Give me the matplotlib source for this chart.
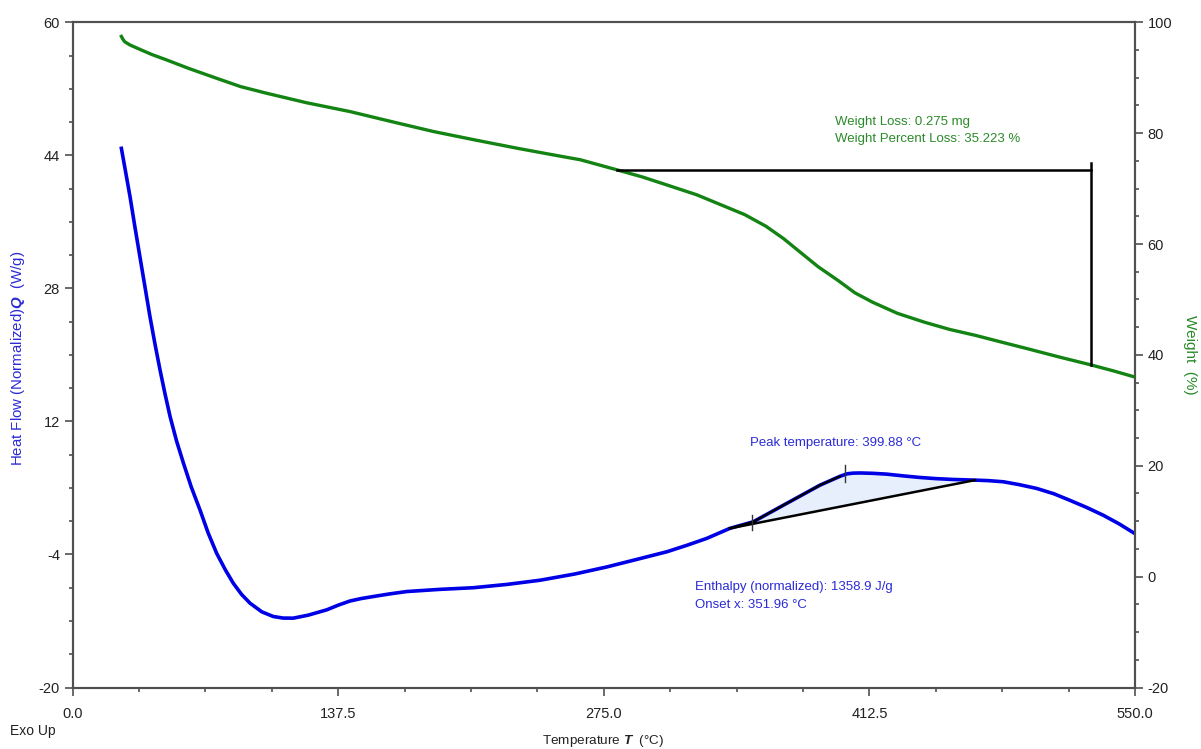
import matplotlib
matplotlib.use("Agg")
import matplotlib.pyplot as plt
import numpy as np

plt.rcParams["font.family"] = ["Liberation Sans", "DejaVu Sans"]
plt.rcParams["mathtext.fontset"] = "custom"
plt.rcParams["mathtext.rm"] = "Liberation Sans"
plt.rcParams["mathtext.bfit"] = "Liberation Sans:italic:bold"
plt.rcParams["axes.unicode_minus"] = False

# Heat flow (normalized), W/g
hf_temp = [25.3, 27.5, 29.8, 32.3, 34.9, 37.5, 40.1, 42.7, 45.3, 47.9, 50.5, 53.8,
           57.4, 61.5, 66.0, 70.2, 74.6, 79.0, 83.2, 87.5, 91.9, 98.0, 103.9, 109.0,
           114.3, 122.0, 131.6, 137.5, 143.6, 149.5, 155.7, 164.0, 173.0, 190.0,
           207.5, 225.0, 242.0, 260.0, 276.6, 292.0, 307.6, 318.0, 328.3, 340.3,
           352.4, 369.7, 386.9, 397.3, 401.0, 404.0, 407.6, 414.0, 421.5, 430.0,
           438.7, 447.0, 455.9, 467.2, 474.0, 481.9, 490.0, 499.1, 508.0, 516.4,
           525.0, 533.7, 542.0, 550.0]
hf_value = [44.84, 42.0, 39.0, 35.4, 31.8, 28.2, 24.6, 21.3, 18.2, 15.3, 12.6, 9.7,
            7.0, 4.1, 1.35, -1.4, -3.85, -5.8, -7.45, -8.8, -9.86, -10.9, -11.46, -11.65,
            -11.66, -11.3, -10.66, -10.1, -9.6, -9.3, -9.06, -8.75, -8.46, -8.2,
            -8.0, -7.6, -7.1, -6.35, -5.5, -4.6, -3.68, -2.9, -2.07, -0.86,
            -0.07, 2.14, 4.33, 5.4, 5.7, 5.78, 5.8, 5.76, 5.66, 5.45,
            5.26, 5.12, 5.02, 4.94, 4.88, 4.74, 4.4, 3.94, 3.3, 2.5,
            1.65, 0.7, -0.35, -1.5]

# Weight, %
wt_temp = [25.3, 26.0, 27.0, 29.8, 35.0, 41.0, 48.8, 60.0, 74.6, 87.0, 100.5, 121.0,
           143.6, 165.0, 186.8, 208.0, 229.9, 247.0, 262.9, 281.7, 295.0, 307.3,
           323.0, 337.6, 348.0, 359.0, 368.0, 376.8, 386.0, 396.4, 405.0, 414.2,
           427.0, 441.0, 454.0, 467.7, 481.0, 494.5, 511.0, 527.4, 539.0, 550.0]
wt_value = [97.45, 97.0, 96.5, 95.9, 95.1, 94.2, 93.2, 91.7, 89.9, 88.4, 87.2, 85.5,
            83.9, 82.1, 80.3, 78.8, 77.3, 76.2, 75.2, 73.4, 72.1, 70.7,
            68.9, 66.8, 65.3, 63.2, 61.0, 58.5, 55.9, 53.4, 51.2, 49.5,
            47.5, 45.9, 44.6, 43.5, 42.3, 41.1, 39.6, 38.18, 37.1, 36.0]

# Peak integration
base_start = 340.3
base_end = 467.2
tangent_end = 397.3
peak_temp = 399.88
onset_temp = 351.96
enthalpy = 1358.9

# Weight step
step_start = 281.7
step_end = 527.4
step_top = 73.4
weight_loss_mg = 0.275
weight_loss_pct = 35.223

x_ticks = [0.0, 137.5, 275.0, 412.5, 550.0]
left_ticks = [-20, -4, 12, 28, 44, 60]
right_ticks = [-20, 0, 20, 40, 60, 80, 100]

BLUE = "#0000e6"
BLUE_TXT = "#2b2bd6"
GREEN = "#138413"
GREEN_TXT = "#2a8a2a"
SPINE = "#505050"

fig = plt.figure(figsize=(12.01, 7.49), dpi=100)
W, H = 1201, 749
ax = fig.add_axes([72.5 / W, 1 - 687.5 / H, (1135 - 72.5) / W, (687.5 - 22.3) / H])
ax2 = ax.twinx()

for a in (ax, ax2):
    for s in a.spines.values():
        s.set_color(SPINE)
        s.set_linewidth(1.5)

ax.set_xlim(0, 550)
ax.set_ylim(-20, 60)
ax2.set_ylim(-20, 100)

ax.set_xticks(x_ticks)
ax.set_xticklabels([f"{t:.1f}" for t in x_ticks])
ax.set_xticks(np.arange(0, 550.1, 34.375), minor=True)
ax.set_yticks(left_ticks)
ax.set_yticks(np.arange(-20, 60.1, 4), minor=True)
ax2.set_yticks(right_ticks)
ax2.set_yticks(np.arange(-20, 100.1, 5), minor=True)

for a in (ax, ax2):
    a.tick_params(which="major", length=6, width=1.2, color=SPINE, labelsize=10.5,
                  labelcolor="#222222", pad=3)
    a.tick_params(which="minor", length=3, width=1.2, color=SPINE)
ax.tick_params(axis="x", which="major", pad=8)

# Heat flow curve with peak analysis
hf_t = np.array(hf_temp)
hf_v = np.array(hf_value)
b0 = np.interp(base_start, hf_t, hf_v)
b1 = np.interp(base_end, hf_t, hf_v)
mask = (hf_t >= base_start) & (hf_t <= base_end)
seg_t = hf_t[mask]
seg_v = hf_v[mask]
base_v = b0 + (b1 - b0) * (seg_t - base_start) / (base_end - base_start)
ax.fill_between(seg_t, base_v, seg_v, color="#e6effb", zorder=1, linewidth=0)
ax.plot(hf_t, hf_v, color=BLUE, lw=2.6, zorder=3, solid_joinstyle="round")
tmask = (hf_t >= base_start) & (hf_t <= tangent_end)
ax.plot(hf_t[tmask], hf_v[tmask], color="black", lw=1.6, zorder=4)
ax.plot([base_start, base_end], [b0, b1], color="black", lw=1.8, zorder=4)
pk = np.interp(peak_temp, hf_t, hf_v)
ax.plot([peak_temp, peak_temp], [pk - 0.9, pk + 1.1], color="#333333", lw=1.0, zorder=5)
on = np.interp(onset_temp, hf_t, hf_v)
ax.plot([onset_temp, onset_temp], [on - 1.0, on + 0.8], color="#333333", lw=1.0, zorder=5)

# Weight curve with step annotation
ax2.plot(wt_temp, wt_value, color=GREEN, lw=2.4, zorder=3, solid_joinstyle="round")
ax2.plot([step_start, step_end], [step_top, step_top], color="black", lw=1.8, zorder=4)
ax2.plot([step_end, step_end], [step_top + 1.3, step_top - weight_loss_pct],
         color="black", lw=1.8, zorder=4)

# Annotations
fig.text(750 / W, 1 - 443 / H, f"Peak temperature: {peak_temp:.2f} °C",
         fontsize=9.5, color=BLUE_TXT, va="center", ha="left")
fig.text(695 / W, 1 - 587 / H, f"Enthalpy (normalized): {enthalpy:.1f} J/g",
         fontsize=9.5, color=BLUE_TXT, va="center", ha="left")
fig.text(695 / W, 1 - 605 / H, f"Onset x: {onset_temp:.2f} °C",
         fontsize=9.5, color=BLUE_TXT, va="center", ha="left")
fig.text(835 / W, 1 - 122 / H, f"Weight Loss: {weight_loss_mg:.3f} mg",
         fontsize=9.5, color=GREEN_TXT, va="center", ha="left")
fig.text(835 / W, 1 - 139 / H, f"Weight Percent Loss: {weight_loss_pct:.3f} %",
         fontsize=9.5, color=GREEN_TXT, va="center", ha="left")

# Axis titles
fig.text(18 / W, 1 - 358 / H, r"Heat Flow (Normalized)$\mathbfit{Q}$  (W/g)",
         rotation=90, fontsize=10.8, color=BLUE_TXT, va="center", ha="center")
fig.text(1190 / W, 1 - 355 / H, "Weight  (%)", rotation=-90,
         fontsize=11, color=GREEN_TXT, va="center", ha="center")
fig.text(603 / W, 1 - 741 / H, r"Temperature $\mathbfit{T}$  (°C)",
         fontsize=9.7, color="#222222", va="center", ha="center")
fig.text(10 / W, 1 - 731 / H, "Exo Up", fontsize=10, color="#222222",
         va="center", ha="left")

fig.savefig("out.png", dpi=100)
